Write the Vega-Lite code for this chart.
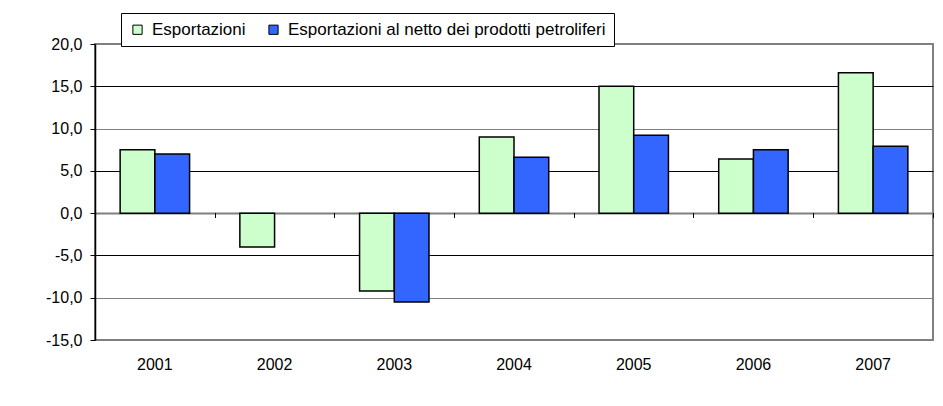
{
  "$schema": "https://vega.github.io/schema/vega-lite/v6.json",
  "width": 838,
  "height": 296,
  "autosize": {"type": "none"},
  "padding": {"left": 95, "top": 44, "right": 10, "bottom": 66},
  "background": "#ffffff",
  "config": {
    "font": "Liberation Sans",
    "view": {"stroke": "#808080", "strokeWidth": 2}
  },
  "data": {
    "values": [
      {"anno": "2001", "serie": "Esportazioni", "valore": 7.5},
      {"anno": "2001", "serie": "Esportazioni al netto dei prodotti petroliferi", "valore": 7.0},
      {"anno": "2002", "serie": "Esportazioni", "valore": -4.0},
      {"anno": "2002", "serie": "Esportazioni al netto dei prodotti petroliferi", "valore": null},
      {"anno": "2003", "serie": "Esportazioni", "valore": -9.2},
      {"anno": "2003", "serie": "Esportazioni al netto dei prodotti petroliferi", "valore": -10.5},
      {"anno": "2004", "serie": "Esportazioni", "valore": 9.0},
      {"anno": "2004", "serie": "Esportazioni al netto dei prodotti petroliferi", "valore": 6.6},
      {"anno": "2005", "serie": "Esportazioni", "valore": 15.0},
      {"anno": "2005", "serie": "Esportazioni al netto dei prodotti petroliferi", "valore": 9.2},
      {"anno": "2006", "serie": "Esportazioni", "valore": 6.4},
      {"anno": "2006", "serie": "Esportazioni al netto dei prodotti petroliferi", "valore": 7.5},
      {"anno": "2007", "serie": "Esportazioni", "valore": 16.6},
      {"anno": "2007", "serie": "Esportazioni al netto dei prodotti petroliferi", "valore": 7.9}
    ]
  },
  "layer": [
    {
      "mark": {"type": "bar", "stroke": "#000000", "strokeWidth": 1.5},
      "encoding": {
        "x": {
          "field": "anno",
          "type": "nominal",
          "scale": {"paddingInner": 0.42, "paddingOuter": 0.21},
          "axis": {
            "orient": "bottom",
            "title": null,
            "labelAngle": 0,
            "domain": false,
            "ticks": false,
            "grid": false,
            "labelPadding": 16,
            "labelFontSize": 16,
            "labelColor": "#000000"
          }
        },
        "xOffset": {
          "field": "serie",
          "type": "nominal",
          "sort": ["Esportazioni", "Esportazioni al netto dei prodotti petroliferi"],
          "scale": {"paddingInner": 0, "paddingOuter": 0}
        },
        "y": {
          "field": "valore",
          "type": "quantitative",
          "scale": {"domain": [-15, 20], "nice": false, "zero": false},
          "axis": {
            "title": null,
            "values": [-15, -10, -5, 0, 5, 10, 15, 20],
            "labelExpr": "replace(replace(format(datum.value, '.1f'), '.', ','), '\u2212', '-')",
            "labelFontSize": 16,
            "labelColor": "#000000",
            "labelPadding": 8,
            "tickSize": 5,
            "tickColor": "#000000",
            "domainColor": "#000000",
            "domainWidth": 1.5,
            "gridOpacity": 1,
            "gridColor": {
              "condition": {"test": "datum.value == 0 || datum.value == 10 || datum.value == -10 || datum.value == 20 || datum.value == -15", "value": "#808080"},
              "value": "#000000"
            },
            "gridWidth": {
              "condition": {"test": "datum.value == 0", "value": 2},
              "value": 1
            }
          }
        },
        "color": {
          "field": "serie",
          "type": "nominal",
          "sort": ["Esportazioni", "Esportazioni al netto dei prodotti petroliferi"],
          "scale": {
            "domain": ["Esportazioni", "Esportazioni al netto dei prodotti petroliferi"],
            "range": ["#CCFFCC", "#3366FF"]
          },
          "legend": {
            "orient": "none",
            "legendX": 26,
            "legendY": -31,
            "direction": "horizontal",
            "title": null,
            "fillColor": "#ffffff",
            "strokeColor": "#000000",
            "padding": 8,
            "symbolType": "square",
            "symbolSize": 85,
            "symbolStrokeColor": "#000000",
            "symbolStrokeWidth": 1,
            "symbolOpacity": 1,
            "labelFontSize": 17,
            "labelColor": "#000000",
            "labelOffset": 6,
            "labelLimit": 600,
            "columnPadding": 19
          }
        }
      }
    },
    {
      "mark": {"type": "point", "opacity": 0},
      "encoding": {
        "x": {
          "field": "anno",
          "type": "nominal",
          "axis": {
            "orient": "bottom",
            "offset": -127.5,
            "title": null,
            "labels": false,
            "domain": false,
            "grid": false,
            "ticks": true,
            "tickSize": 5,
            "tickColor": "#000000",
            "tickWidth": 1,
            "bandPosition": 1,
            "tickOffset": 25
          }
        }
      }
    }
  ],
  "resolve": {"axis": {"x": "independent"}}
}
